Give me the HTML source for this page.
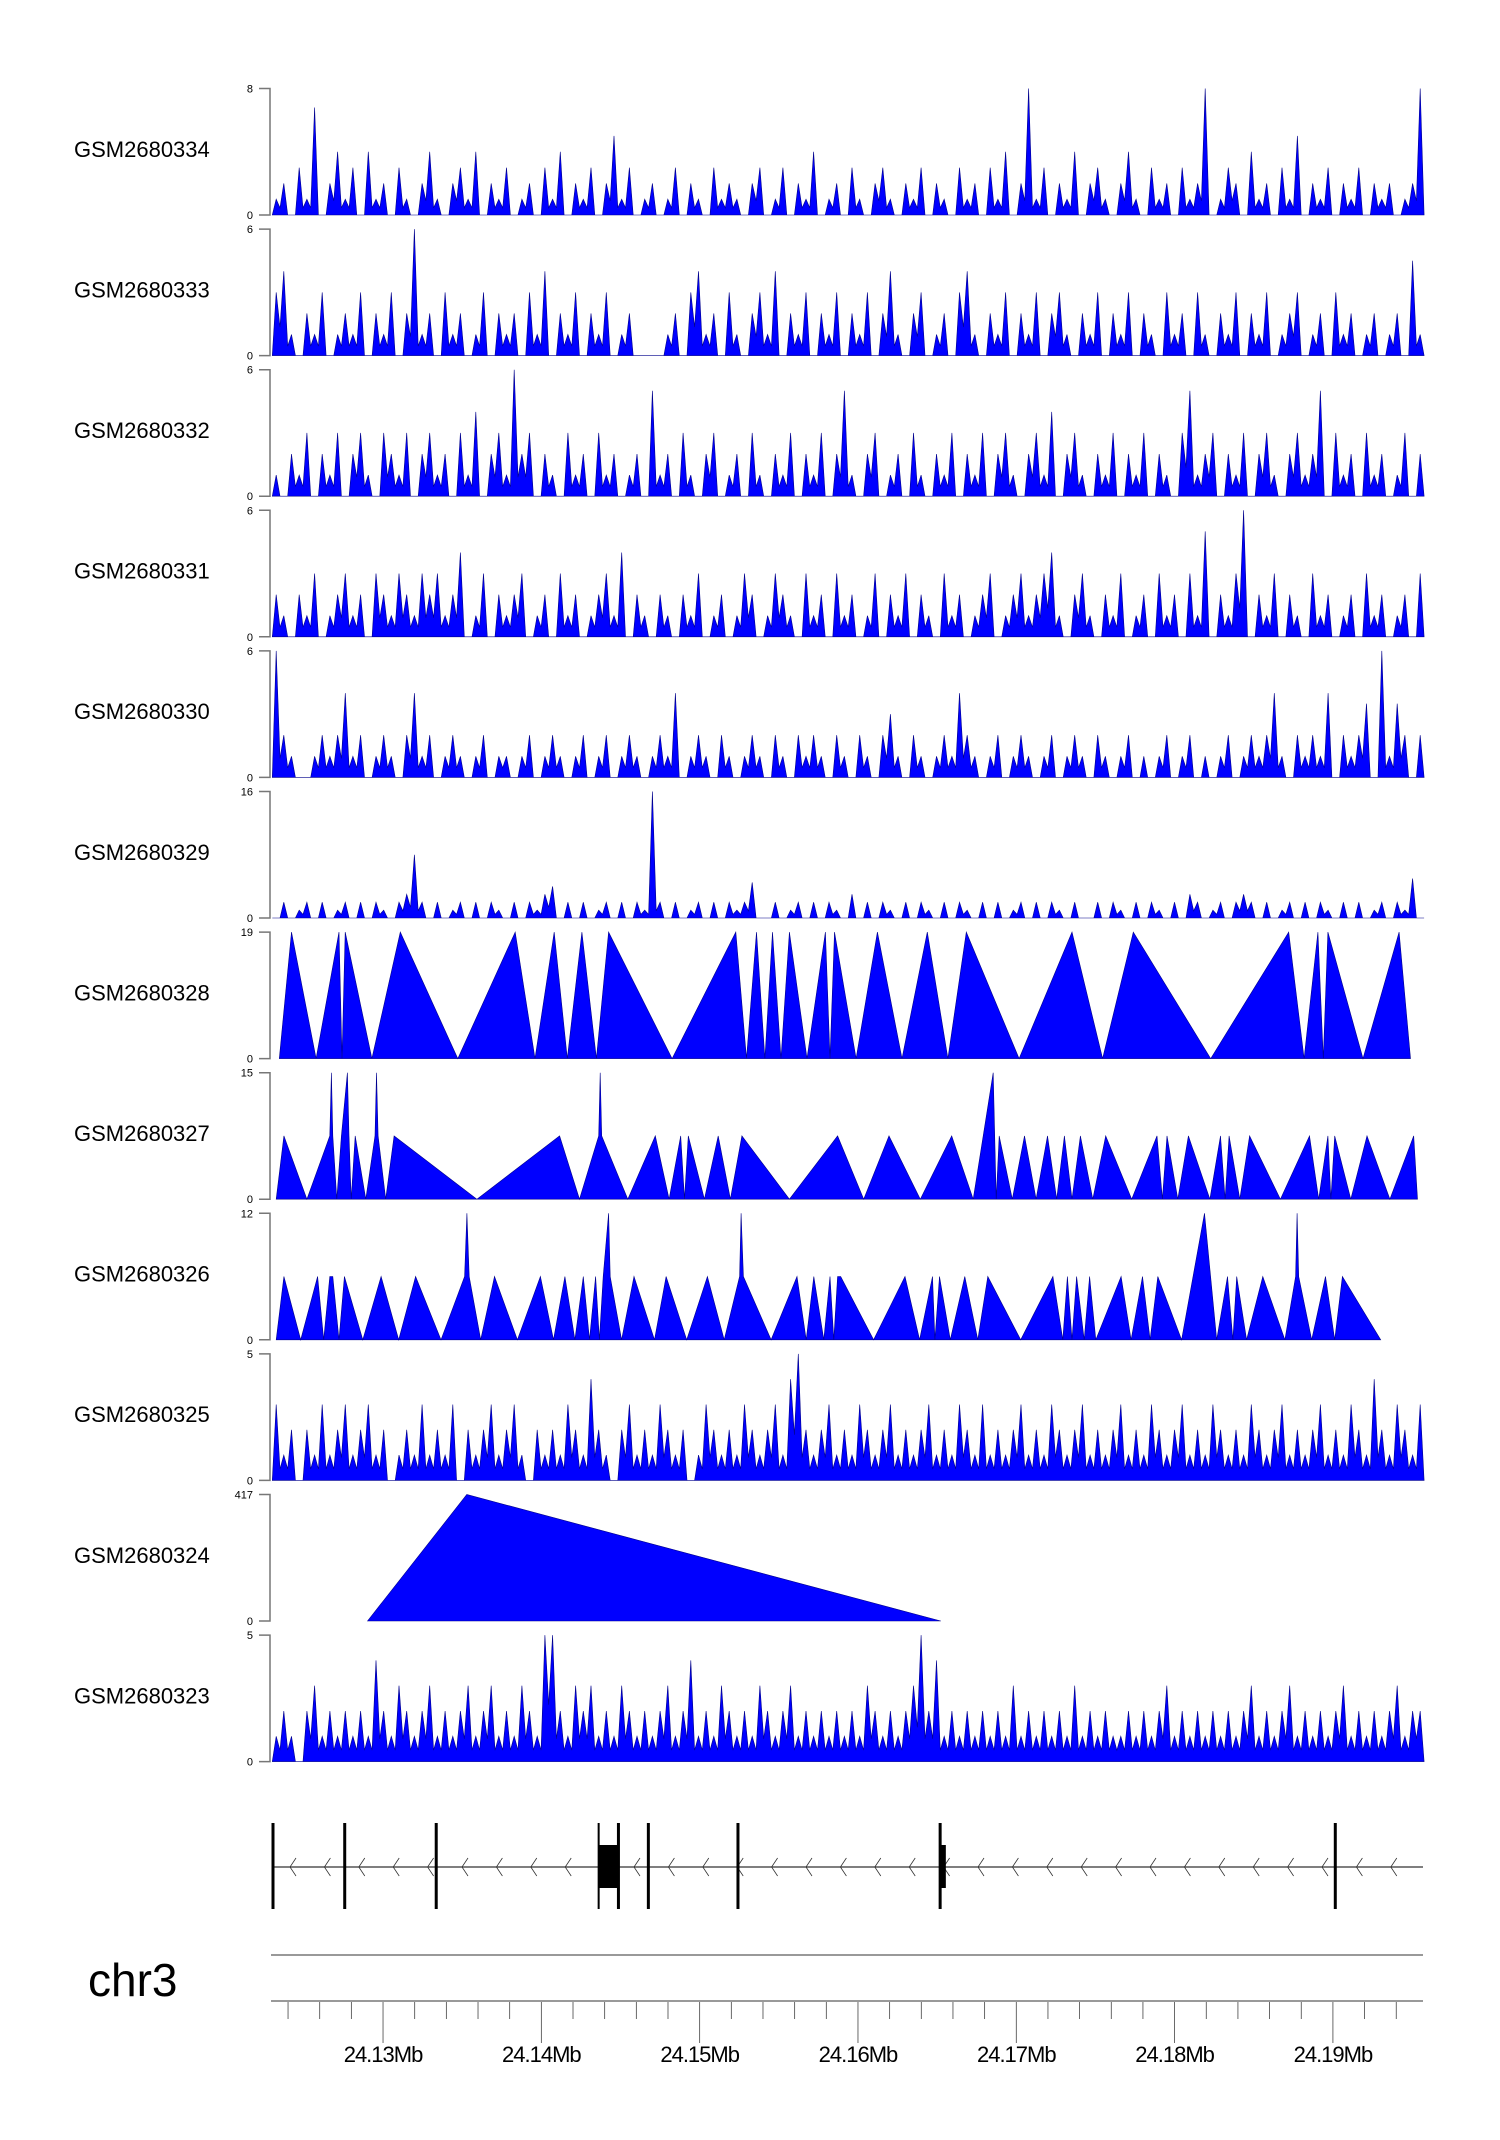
<!DOCTYPE html>
<html><head><meta charset="utf-8"><style>
html,body{margin:0;padding:0;background:#fff;}
svg{display:block;font-family:"Liberation Sans",Arial,sans-serif;}
</style></head><body>
<svg id="chart" width="1500" height="2140" viewBox="0 0 1500 2140" xmlns="http://www.w3.org/2000/svg"></svg>
<script>
// ---- data ----
const regionStartMb = 24.12305;   // Mb at left edge
const regionEndMb = 24.19569;
const sampleNames = ["GSM2680334","GSM2680333","GSM2680332","GSM2680331","GSM2680330","GSM2680329","GSM2680328","GSM2680327","GSM2680326","GSM2680325","GSM2680324","GSM2680323"];
const trackMax = [8,6,6,6,6,16,19,15,12,5,417,5];
const trackMaxLabels = ["8","6","6","6","6","16","19","15","12","5","417","5"];
const binStartKb = 0.2;
const binWidthKb = 0.485;
const t334 = [1,2,0,3,1,6.8,0,2,4,1, 3,0,4,1,2,0,3,1,0,2, 4,1,0,2,3,1,4,0,2,1, 3,0,1,2,0,3,1,4,0,2, 1,3,0,2,5,1,3,0,1,2, 0,1,3,0,2,1,0,3,1,2, 1,0,2,3,0,1,3,0,2,1, 4,0,1,2,0,3,1,0,2,3, 1,0,2,1,3,0,2,1,0,3, 1,2,0,3,1,4,0,2,8,1, 3,0,2,1,4,0,2,3,1,0, 2,4,1,0,3,1,2,0,3,1, 2,8,0,1,3,2,0,4,1,2, 0,3,1,5,0,2,1,3,0,2, 1,3,0,2,1,2,0,1,2,8];
const t333 = [3,4,1,0,2,1,3,0,1,2, 1,3,0,2,1,3,0,2,6,1, 2,0,3,1,2,0,1,3,0,2, 1,2,0,3,1,4,0,2,1,3, 0,2,1,3,0,1,2,0,0,0, 0,1,2,0,3,4,1,2,0,3, 1,0,2,3,1,4,0,2,1,3, 0,2,1,3,0,2,1,3,0,2, 4,1,0,2,3,0,1,2,0,3, 4,1,0,2,1,3,0,2,1,3, 0,2,3,1,0,2,1,3,0,2, 1,3,0,2,1,0,3,1,2,0, 3,1,0,2,1,3,0,2,1,3, 0,1,2,3,0,1,2,0,3,1, 2,0,1,2,0,1,2,0,4.5,1];
const t332 = [1,0,2,1,3,0,2,1,3,0, 2,3,1,0,3,2,1,3,0,2, 3,1,2,0,3,1,4,0,2,3, 1,6,2,3,0,2,1,0,3,1, 2,0,3,1,2,0,1,2,0,5, 1,2,0,3,1,0,2,3,0,1, 2,0,3,1,0,2,1,3,0,2, 1,3,0,2,5,1,0,2,3,0, 1,2,0,3,1,0,2,1,3,0, 2,1,3,0,2,3,1,0,2,3, 1,4,0,2,3,1,0,2,1,3, 0,2,1,3,0,2,1,0,3,5, 1,2,3,0,2,1,3,0,2,3, 1,0,2,3,1,2,5,0,3,1, 2,0,3,1,2,0,1,3,0,2];
const t331 = [2,1,0,2,1,3,0,1,2,3, 1,2,0,3,2,1,3,2,1,3, 2,3,1,2,4,0,1,3,0,2, 1,2,3,0,1,2,0,3,1,2, 0,1,2,3,1,4,0,2,1,0, 2,1,0,2,1,3,0,1,2,0, 1,3,2,0,1,3,2,1,0,3, 1,2,0,3,1,2,0,1,3,0, 2,1,3,0,2,1,0,3,1,2, 0,1,2,3,0,1,2,3,1,2, 3,4,1,0,2,3,1,0,2,1, 3,0,1,2,0,3,1,2,0,3, 1,5,0,2,1,3,6,0,2,1, 3,0,2,1,0,3,1,2,0,1, 2,0,3,1,2,0,1,2,0,3];
const t330 = [6,2,1,0,0,1,2,1,2,4, 1,2,0,1,2,1,0,2,4,1, 2,0,1,2,1,0,1,2,0,1, 1,0,1,2,0,1,2,1,0,1, 2,0,1,2,0,1,2,1,0,1, 2,1,4,0,1,2,1,0,2,1, 0,1,2,1,0,2,1,0,2,1, 2,1,0,2,1,0,2,1,0,2, 3,1,0,2,1,0,1,2,1,4, 2,1,0,1,2,0,1,2,1,0, 1,2,0,1,2,1,0,2,1,0, 1,2,0,1,0,1,2,0,1,2, 0,1,0,1,2,0,1,2,1,2, 4,1,0,2,1,2,1,4,0,2, 1,2,3.5,0,6,1,3.5,2,0,2];
const t329 = [0,2,0,1,2,0,2,0,1,2, 0,2,0,2,1,0,2,3,8,2, 0,2,0,1,2,0,2,0,2,1, 0,2,0,2,1,3,4,0,2,0, 2,0,1,2,0,2,0,2,1,16, 2,0,2,0,1,2,0,2,0,2, 1,2,4.5,0,0,2,0,1,2,0, 2,0,2,1,0,3,0,2,0,2, 1,0,2,0,2,1,0,2,0,2, 1,0,2,0,2,0,1,2,0,2, 0,2,1,0,2,0,0,2,0,2, 1,0,2,0,2,1,0,2,0,3, 2,0,1,2,0,2,3,2,0,2, 0,1,2,0,2,0,2,1,0,2, 0,2,0,1,2,0,2,1,5,0];
const t325 = [3,1,2,0,2,1,3,1,2,3, 1,2,3,1,2,0,1,2,1,3, 1,2,1,3,0,2,1,2,3,1, 2,3,1,0,2,1,2,1,3,2, 1,4,2,1,0,2,3,1,2,1, 3,2,1,2,0,1,3,2,1,2, 1,3,2,1,2,3,1,4,5,2, 1,2,3,1,2,1,3,2,1,2, 3,1,2,1,2,3,1,2,1,3, 2,1,3,1,2,1,2,3,1,2, 1,3,2,1,2,3,1,2,1,2, 3,1,2,1,3,2,1,2,3,1, 2,1,3,2,1,2,1,3,2,1, 2,3,1,2,1,2,3,1,2,1, 3,2,1,4,2,1,3,2,1,3];
const t323 = [1,2,1,0,2,3,1,2,1,2, 1,2,1,4,2,1,3,2,1,2, 3,1,2,1,2,3,1,2,3,1, 2,1,3,2,1,5,5,2,1,3, 2,3,1,2,1,3,2,1,2,1, 2,3,1,2,4,1,2,1,3,2, 1,2,1,3,2,1,2,3,1,2, 1,2,1,2,1,2,1,3,2,1, 2,1,2,3,5,2,4,1,2,1, 2,1,2,1,2,1,3,1,2,1, 2,1,2,1,3,1,2,1,2,1, 1,2,1,2,1,2,3,1,2,1, 2,1,2,1,2,1,2,3,1,2, 1,2,3,1,2,1,2,1,2,3, 1,2,1,2,1,2,3,1,2,2];
// sparse tracks: positions in kb from region start, values
const t328Pos = [0.40,1.17,2.72,4.17,4.36,4.56,6.25,8.04,11.67,15.30,16.55,17.76,18.59,19.51,20.43,21.20,25.21,29.23,29.91,30.54,31.07,31.55,32.09,32.62,33.73,34.89,35.18,35.47,36.83,38.18,39.73,41.33,42.63,43.79,47.13,50.47,52.40,54.34,59.23,64.16,65.13,66.00,66.34,66.63,68.85,71.13,71.85];
const t328Val = [0,19,0,19,0,19,0,19,0,19,0,19,0,19,0,19,0,19,0,19,0,19,0,19,0,19,0,19,0,19,0,19,0,19,0,19,0,19,0,19,0,19,0,19,0,19,0];
const t327Pos = [0.20,0.69,2.14,3.59,3.69,3.78,4.03,4.32,4.70,4.80,4.94,5.19,5.86,6.44,6.54,6.64,7.12,7.65,12.88,18.10,19.36,20.57,20.67,20.76,22.41,24.15,25.02,25.75,25.99,26.23,27.25,28.12,28.89,29.62,32.62,35.66,37.31,38.91,40.89,42.87,44.23,45.49,45.68,45.87,46.70,47.47,48.20,48.92,49.50,49.99,50.47,51.00,51.78,52.60,54.24,55.84,56.18,56.47,57.15,57.82,59.18,59.85,60.14,60.39,61.07,61.69,63.63,65.47,66.05,66.63,66.82,67.06,68.08,69.10,70.55,72.05,72.29];
const t327Val = [0,7.5,0,7.5,15,7.5,0,7.5,15,7.5,0,7.5,0,7.5,15,7.5,0,7.5,0,7.5,0,7.5,15,7.5,0,7.5,0,7.5,0,7.5,0,7.5,0,7.5,0,7.5,0,7.5,0,7.5,0,15,0,7.5,0,7.5,0,7.5,0,7.5,0,7.5,0,7.5,0,7.5,0,7.5,0,7.5,0,7.5,0,7.5,0,7.5,0,7.5,0,7.5,0,7.5,0,7.5,0,7.5,0];
const t326Pos = [0.20,0.69,1.75,2.82,3.20,3.59,3.78,4.17,4.51,5.67,6.83,7.94,9.01,10.61,12.10,12.25,12.39,13.12,13.99,15.44,16.89,17.72,18.44,19.07,19.60,19.99,20.38,20.62,20.86,21.20,21.30,22.02,22.80,24.10,24.83,26.13,27.44,28.50,29.47,29.57,29.71,31.46,33.10,33.68,34.16,34.79,35.18,35.42,35.66,35.86,37.94,39.92,40.84,41.66,41.81,42.10,42.78,43.70,44.52,45.15,47.23,49.26,49.89,50.18,50.47,50.76,51.24,51.58,51.97,53.57,54.20,54.92,55.40,55.89,57.39,58.84,59.61,60.29,60.63,60.87,61.50,62.52,63.92,64.59,64.69,64.79,65.61,66.48,67.06,67.55,69.97];
const t326Val = [0,6,0,6,0,6,6,0,6,0,6,0,6,0,6,12,6,0,6,0,6,0,6,0,6,0,6,0,6,12,6,0,6,0,6,0,6,0,6,12,6,0,6,0,6,0,6,0,6,6,0,6,0,6,0,6,0,6,0,6,0,6,0,6,0,6,0,6,0,6,0,6,0,6,0,12,0,6,0,6,0,6,0,6,12,6,0,6,0,6,0];
const t324Pos = [5.97,12.24,42.18];
const t324Val = [0,417,0];
// gene model (kb from region start)
const exonPos = [0,4.53,10.31,21.82,23.71,29.37,42.14,67.1];
const exonBoxStart = [20.57,42.14];
const exonBoxEnd = [21.76,42.5];
const majorTickMb = [24.13,24.14,24.15,24.16,24.17,24.18,24.19];
const majorTickLabels = ["24.13Mb","24.14Mb","24.15Mb","24.16Mb","24.17Mb","24.18Mb","24.19Mb"];
const minorTickMb = [24.124,24.126,24.128,24.132,24.134,24.136,24.138,24.142,24.144,24.146,24.148,24.152,24.154,24.156,24.158,24.162,24.164,24.166,24.168,24.172,24.174,24.176,24.178,24.182,24.184,24.186,24.188,24.192,24.194];

// ---- layout ----
const NS = "http://www.w3.org/2000/svg";
const svg = document.getElementById("chart");
const X0 = 273, X1 = 1423;
const spanKb = (regionEndMb - regionStartMb) * 1000;
function xKb(kb){ return X0 + kb / spanKb * (X1 - X0); }
function xMb(mb){ return xKb((mb - regionStartMb) * 1000); }
const trackTop0 = 88.5, trackStep = 140.6, trackH = 126.5;
function mk(tag, attrs, parent){
  const e = document.createElementNS(NS, tag);
  for (const k in attrs) e.setAttribute(k, attrs[k]);
  (parent || svg).appendChild(e);
  return e;
}
const binned = {0:t334,1:t333,2:t332,3:t331,4:t330,5:t329,9:t325,11:t323};
const sparse = {6:[t328Pos,t328Val],7:[t327Pos,t327Val],8:[t326Pos,t326Val],10:[t324Pos,t324Val]};

sampleNames.forEach((name, k) => {
  const top = trackTop0 + trackStep * k, bot = top + trackH;
  const g = mk("g", {});
  
  
  const yv = v => bot - v / trackMax[k] * trackH;
  const lbl = mk("text", {x: 74, y: (top + bot) / 2 + 5, "font-size": 22, fill: "#000"}, g);
  lbl.textContent = name;
  
  
  const ax = mk("path", {d: `M259,${top}H270V${bot}H259`, stroke: "#777", "stroke-width": 1.5, fill: "none"}, g);
  
  
  const tmax = mk("text", {x: 253, y: top + 4, "font-size": 11, "text-anchor": "end", fill: "#000"}, g);
  tmax.textContent = trackMaxLabels[k];
  
  
  const tmin = mk("text", {x: 253, y: bot + 4, "font-size": 11, "text-anchor": "end", fill: "#000"}, g);
  tmin.textContent = "0";
  
  
  let pts = [];
  if (binned[k]) {
    const arr = binned[k];
    pts.push([xKb(binStartKb - binWidthKb / 2), bot]);
    arr.forEach((v, i) => {
      const c = binStartKb + i * binWidthKb;
      pts.push([xKb(c), yv(v)]);
      pts.push([xKb(c + binWidthKb / 2), yv(Math.min(v, arr[i + 1] === undefined ? 0 : arr[i + 1]) * 0.45)]);
    });
    pts.push([xKb(binStartKb + (arr.length - 1) * binWidthKb), bot]);
  } else {
    const [pos, val] = sparse[k];
    pts.push([xKb(pos[0]), bot]);
    pos.forEach((p, i) => pts.push([xKb(p), yv(val[i])]));
    pts.push([xKb(pos[pos.length - 1]), bot]);
  }
  const area = mk("polygon", {points: pts.map(p => p[0].toFixed(1) + "," + p[1].toFixed(1)).join(" "), fill: "#0000ff", stroke: "#00008b", "stroke-width": 0.6, "stroke-linejoin": "miter"}, g);
  
  
});

// gene track
const gg = mk("g", {});


const gy = 1867;
mk("line", {x1: X0, x2: X1, y1: gy, y2: gy, stroke: "#333", "stroke-width": 1.2}, gg);
for (let x = 290; x < X1 - 5; x += 34.4) {
  mk("polyline", {points: `${x+6},${gy-9} ${x},${gy} ${x+6},${gy+9}`, fill: "none", stroke: "#333", "stroke-width": 0.8}, gg);
}
exonPos.forEach(p => {
  const l = mk("line", {x1: xKb(p), x2: xKb(p), y1: 1823, y2: 1909, stroke: "#000", "stroke-width": 3}, gg);
  
  
});
mk("line", {x1: xKb(20.57), x2: xKb(20.57), y1: 1823, y2: 1909, stroke: "#000", "stroke-width": 2}, gg);
exonBoxStart.forEach((s, i) => {
  const r = mk("rect", {x: xKb(s), y: 1845, width: Math.max(2, xKb(exonBoxEnd[i]) - xKb(s)), height: 43, fill: "#000"}, gg);
  
  
});

// ideogram / axis
const chr = mk("text", {x: 88, y: 1996, "font-size": 46, fill: "#000"});
chr.textContent = "chr3";


const ag = mk("g", {});


mk("line", {x1: 271, x2: X1, y1: 1955, y2: 1955, stroke: "#999", "stroke-width": 2}, ag);
mk("line", {x1: 271, x2: X1, y1: 2001, y2: 2001, stroke: "#999", "stroke-width": 2}, ag);
minorTickMb.forEach(m => {
  mk("line", {x1: xMb(m), x2: xMb(m), y1: 2002, y2: 2019, stroke: "#444", "stroke-width": 0.8}, ag);
});
majorTickMb.forEach((m, i) => {
  mk("line", {x1: xMb(m), x2: xMb(m), y1: 2002, y2: 2043, stroke: "#444", "stroke-width": 0.8}, ag);
  const t = mk("text", {x: xMb(m), y: 2062, "font-size": 22, "text-anchor": "middle", fill: "#000", "letter-spacing": "-1"}, ag);
  t.textContent = majorTickLabels[i];
  
  
});
</script>
</body></html>
